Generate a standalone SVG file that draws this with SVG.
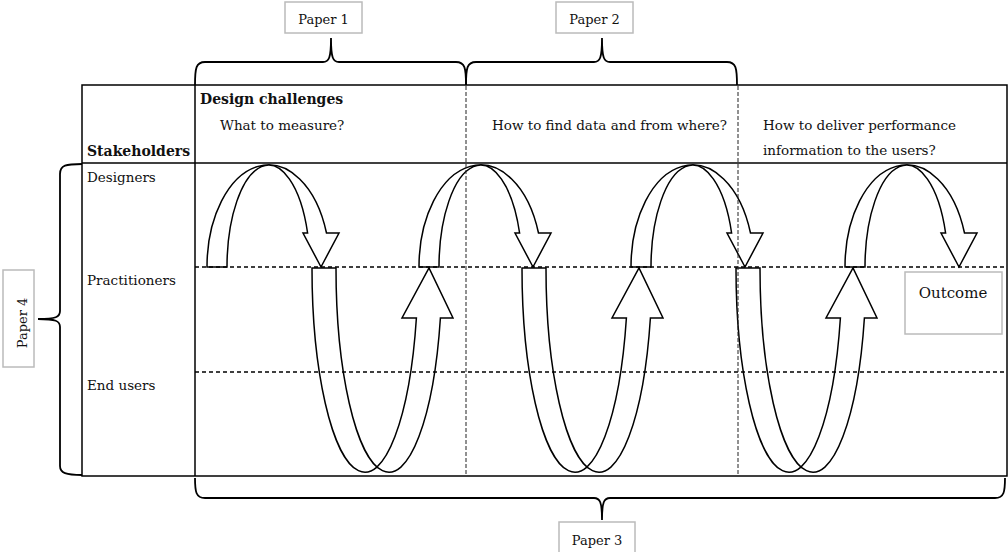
<svg xmlns="http://www.w3.org/2000/svg" width="1008" height="552" viewBox="0 0 1008 552">
  <style>
    .txt { font-family: "DejaVu Serif", "Liberation Serif", serif; font-size: 13.5px; fill: #111; }
    .bold { font-weight: bold; font-size: 14px; }
    .tag { font-size: 13px; }
    .big { font-size: 15px; }
    .grid { stroke: #000; stroke-width: 1.5; fill: none; }
    .hdash { stroke: #000; stroke-width: 1.5; stroke-dasharray: 4 3; fill: none; }
    .vdash { stroke: #222; stroke-width: 1; stroke-dasharray: 4 2; fill: none; }
    .brace { stroke: #000; stroke-width: 1.8; fill: none; }
    .label-box { fill: #fff; stroke: #bbb; stroke-width: 1.5; }
    .flow { fill: #fff; stroke: #000; stroke-width: 1.5; stroke-linejoin: miter; }
  </style>
  <defs>
    <!-- arched block arrow: the band narrows to a point at the crest, then lands with a head on the right -->
    <path id="arch" d="M0,0 A61.5,102 0 0 1 119.5,-34 L132,-34 L114,0 L96,-34 L100.6,-34 A41.5,102 0 0 0 20,0 Z"/>
    <!-- U-shaped block arrow: drops from the left, climbs back up to a head on the right -->
    <path id="dip" d="M0,0 A53,204 0 0 0 104.4,50 L90,50 L117,0 L141,50 L128.4,50 A53,204 0 0 1 24,0 Z"/>
  </defs>

  <rect width="1008" height="552" fill="#fff"/>

  <!-- table frame -->
  <g id="table">
    <rect class="grid" x="82" y="85" width="925" height="391"/>
    <line class="grid" x1="82" y1="163" x2="1007" y2="163"/>
    <line class="grid" x1="195" y1="85" x2="195" y2="476"/>
  </g>

  <!-- headers -->
  <g id="headers">
    <text class="txt bold" x="200" y="104">Design challenges</text>
    <text class="txt" x="220" y="130">What to measure?</text>
    <text class="txt" x="492" y="130">How to find data and from where?</text>
    <text class="txt" x="763" y="130">How to deliver performance</text>
    <text class="txt" x="763" y="155">information to the users?</text>
    <text class="txt bold" x="87" y="156">Stakeholders</text>
  </g>

  <!-- stakeholder rows -->
  <g id="rows">
    <text class="txt" x="87" y="182">Designers</text>
    <text class="txt" x="87" y="285">Practitioners</text>
    <text class="txt" x="87" y="390">End users</text>
  </g>

  <!-- iteration arrows -->
  <g id="connectors">
    <use href="#arch" class="flow" transform="translate(207,267)"/>
    <use href="#dip" class="flow" transform="translate(312,268)"/>
    <use href="#arch" class="flow" transform="translate(419,267)"/>
    <use href="#dip" class="flow" transform="translate(522,268)"/>
    <use href="#arch" class="flow" transform="translate(631,267)"/>
    <use href="#dip" class="flow" transform="translate(736,268)"/>
    <use href="#arch" class="flow" transform="translate(845,267)"/>
  </g>

  <!-- row / column separators -->
  <g id="separators">
    <line class="hdash" x1="195" y1="267" x2="1007" y2="267"/>
    <line class="hdash" x1="195" y1="372" x2="1007" y2="372"/>
    <line class="vdash" x1="466" y1="86" x2="466" y2="476"/>
    <line class="vdash" x1="738" y1="86" x2="738" y2="476"/>
  </g>

  <!-- outcome -->
  <g id="outcome">
    <rect class="label-box" x="905" y="272" width="97" height="62"/>
    <text class="txt big" x="953" y="298" text-anchor="middle">Outcome</text>
  </g>

  <!-- paper braces -->
  <g id="paper1">
    <path class="brace" d="M195,85 C195,68 196,62 205,62 L323,62 C329,62 331,58 331,38 C331,58 333,62 339,62 L456,62 C465,62 466,68 466,85"/>
    <rect class="label-box" x="285" y="2" width="77" height="31"/>
    <text class="txt tag" x="323.5" y="24" text-anchor="middle">Paper 1</text>
  </g>
  <g id="paper2">
    <path class="brace" d="M466,85 C466,68 467,62 476,62 L594,62 C600,62 602,58 602,38 C602,58 604,62 610,62 L727,62 C736,62 737,68 737,85"/>
    <rect class="label-box" x="556" y="2" width="77" height="31"/>
    <text class="txt tag" x="594.5" y="24" text-anchor="middle">Paper 2</text>
  </g>
  <g id="paper3">
    <path class="brace" d="M195,478 C195,492 196,498 205,498 L594,498 C600,498 602,502 602,520 C602,502 604,498 610,498 L995,498 C1004,498 1005,492 1005,478"/>
    <rect class="label-box" x="559" y="522" width="76" height="34"/>
    <text class="txt tag" x="597" y="545" text-anchor="middle">Paper 3</text>
  </g>
  <g id="paper4">
    <path class="brace" d="M82,164 C66,164 60,165 60,174 L60,311 C60,317 56,319 38,319 C56,319 60,321 60,327 L60,466 C60,473 66,475 82,475"/>
    <rect class="label-box" x="3" y="270" width="31" height="97"/>
    <text class="txt tag" transform="translate(27,323) rotate(-90)" text-anchor="middle">Paper 4</text>
  </g>
</svg>
